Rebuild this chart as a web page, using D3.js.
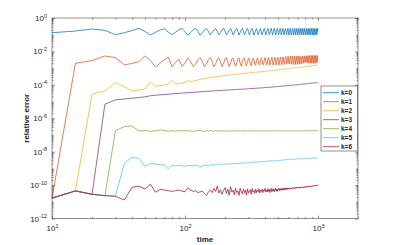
<!DOCTYPE html>
<html>
<head>
<meta charset="utf-8">
<script src="https://cdn.jsdelivr.net/npm/d3@7"></script>
<style>
  body { margin: 0; background: #fff; }
  text { font-family: "Liberation Sans", Arial, sans-serif; fill: #262626; }
</style>
</head>
<body>
<div id="chart"></div>
<script>
// sample times
const times = [
  10,15,20,25,30,35,40,45,50,55,60,65,70,75,80,85,90,95,100,105,
  110,115,120,125,130,135,140,145,150,155,160,165,170,175,180,185,190,195,200,205,
  210,215,220,225,230,235,240,245,250,255,260,265,270,275,280,285,290,295,300,305,
  310,315,320,325,330,335,340,345,350,355,360,365,370,375,380,385,390,395,400,405,
  410,415,420,425,430,435,440,445,450,455,460,465,470,475,480,485,490,495,500,505,
  510,515,520,525,530,535,540,545,550,555,560,565,570,575,580,585,590,595,600,605,
  610,615,620,625,630,635,640,645,650,655,660,665,670,675,680,685,690,695,700,705,
  710,715,720,725,730,735,740,745,750,755,760,765,770,775,780,785,790,795,800,805,
  810,815,820,825,830,835,840,845,850,855,860,865,870,875,880,885,890,895,900,905,
  910,915,920,925,930,935,940,945,950,955,960,965,970,975,980,985,990,995,1000
];

// log10 of the relative error for each k
const errK0 = [
  -0.88,-0.78,-0.66,-0.74,-1.00,-0.88,-0.75,-0.62,-0.80,-1.02,
  -0.86,-0.72,-0.64,-0.85,-1.00,-0.85,-0.70,-0.62,-0.82,-1.02,
  -0.88,-0.72,-0.62,-0.80,-1.02,-0.90,-0.72,-0.63,-0.80,-1.00,
  -0.86,-0.71,-0.63,-0.81,-1.01,-0.87,-0.72,-0.62,-0.79,-1.00,
  -0.88,-0.73,-0.63,-0.80,-1.01,-0.86,-0.71,-0.62,-0.81,-1.02,
  -0.87,-0.72,-0.62,-0.79,-1.00,-0.88,-0.73,-0.63,-0.80,-1.01,
  -0.86,-0.71,-0.62,-0.81,-1.02,-0.87,-0.72,-0.63,-0.79,-1.00,
  -0.88,-0.72,-0.62,-0.80,-1.01,-0.86,-0.71,-0.62,-0.80,-1.02,
  -0.87,-0.73,-0.63,-0.79,-1.00,-0.88,-0.72,-0.62,-0.81,-1.01,
  -0.86,-0.71,-0.62,-0.80,-1.02,-0.87,-0.72,-0.63,-0.79,-1.00,
  -0.88,-0.72,-0.62,-0.81,-1.01,-0.86,-0.73,-0.62,-0.80,-1.02,
  -0.87,-0.71,-0.63,-0.79,-1.00,-0.88,-0.72,-0.62,-0.81,-1.01,
  -0.86,-0.72,-0.62,-0.80,-1.02,-0.87,-0.71,-0.63,-0.79,-1.00,
  -0.88,-0.73,-0.62,-0.81,-1.01,-0.86,-0.72,-0.62,-0.80,-1.02,
  -0.87,-0.71,-0.63,-0.79,-1.00,-0.88,-0.72,-0.62,-0.81,-1.01,
  -0.86,-0.72,-0.62,-0.80,-1.02,-0.87,-0.73,-0.63,-0.79,-1.00,
  -0.88,-0.71,-0.62,-0.81,-1.01,-0.86,-0.72,-0.62,-0.80,-1.02,
  -0.87,-0.72,-0.63,-0.79,-1.00,-0.88,-0.71,-0.62,-0.81,-1.01,
  -0.86,-0.73,-0.62,-0.80,-1.02,-0.87,-0.72,-0.63,-0.79,-1.00,
  -0.88,-0.72,-0.62,-0.81,-1.01,-0.86,-0.71,-0.62,-0.80
];
const errK1 = [
  -10.78,-2.71,-2.55,-2.27,-2.37,-2.81,-2.72,-2.61,-2.27,-2.55,
  -2.93,-2.70,-2.50,-2.35,-2.92,-2.65,-2.48,-2.90,-2.70,-2.40,
  -2.58,-2.90,-2.78,-2.50,-2.36,-2.60,-2.92,-2.76,-2.48,-2.36,
  -2.62,-2.92,-2.74,-2.46,-2.37,-2.64,-2.91,-2.72,-2.45,-2.38,
  -2.66,-2.90,-2.70,-2.44,-2.39,-2.68,-2.89,-2.68,-2.43,-2.40,
  -2.70,-2.88,-2.66,-2.42,-2.41,-2.72,-2.87,-2.63,-2.41,-2.43,
  -2.74,-2.85,-2.60,-2.40,-2.45,-2.76,-2.83,-2.57,-2.39,-2.47,
  -2.78,-2.80,-2.54,-2.38,-2.50,-2.80,-2.77,-2.51,-2.37,-2.53,
  -2.81,-2.74,-2.48,-2.36,-2.56,-2.82,-2.71,-2.45,-2.35,-2.59,
  -2.82,-2.68,-2.42,-2.35,-2.62,-2.82,-2.64,-2.39,-2.35,-2.65,
  -2.81,-2.60,-2.36,-2.36,-2.68,-2.80,-2.56,-2.33,-2.37,-2.71,
  -2.78,-2.52,-2.31,-2.39,-2.73,-2.76,-2.48,-2.29,-2.41,-2.75,
  -2.73,-2.44,-2.28,-2.44,-2.77,-2.70,-2.41,-2.27,-2.47,-2.78,
  -2.66,-2.38,-2.27,-2.50,-2.78,-2.62,-2.35,-2.27,-2.53,-2.78,
  -2.58,-2.32,-2.28,-2.56,-2.76,-2.54,-2.30,-2.29,-2.59,-2.74,
  -2.50,-2.28,-2.31,-2.62,-2.71,-2.46,-2.27,-2.33,-2.65,-2.68,
  -2.43,-2.26,-2.36,-2.67,-2.64,-2.39,-2.25,-2.39,-2.69,-2.60,
  -2.36,-2.24,-2.42,-2.70,-2.56,-2.32,-2.24,-2.45,-2.71,-2.52,
  -2.30,-2.24,-2.48,-2.71,-2.48,-2.27,-2.25,-2.52,-2.70,-2.44,
  -2.25,-2.26,-2.55,-2.68,-2.40,-2.23,-2.28,-2.58,-2.64
];
const errK2 = [
  -10.78,-10.35,-4.55,-4.37,-3.87,-4.10,-4.37,-4.30,-4.25,-3.83,
  -4.09,-4.05,-4.00,-3.95,-3.75,-3.95,-3.92,-3.90,-3.86,-3.75,
  -3.82,-3.78,-3.74,-3.71,-3.68,-3.65,-3.63,-3.61,-3.59,-3.57,
  -3.55,-3.54,-3.52,-3.51,-3.49,-3.48,-3.47,-3.46,-3.45,-3.44,
  -3.43,-3.42,-3.41,-3.40,-3.39,-3.38,-3.37,-3.37,-3.36,-3.35,
  -3.34,-3.34,-3.33,-3.32,-3.32,-3.31,-3.30,-3.30,-3.29,-3.29,
  -3.28,-3.27,-3.27,-3.26,-3.26,-3.25,-3.25,-3.24,-3.24,-3.23,
  -3.23,-3.22,-3.22,-3.21,-3.21,-3.20,-3.20,-3.19,-3.19,-3.18,
  -3.18,-3.17,-3.17,-3.16,-3.16,-3.16,-3.15,-3.15,-3.14,-3.14,
  -3.13,-3.13,-3.13,-3.12,-3.12,-3.11,-3.11,-3.11,-3.10,-3.10,
  -3.09,-3.09,-3.09,-3.08,-3.08,-3.07,-3.07,-3.07,-3.06,-3.06,
  -3.06,-3.05,-3.05,-3.05,-3.04,-3.04,-3.04,-3.03,-3.03,-3.03,
  -3.02,-3.02,-3.02,-3.01,-3.01,-3.01,-3.00,-3.00,-3.00,-2.99,
  -2.99,-2.99,-2.98,-2.98,-2.98,-2.97,-2.97,-2.97,-2.97,-2.96,
  -2.96,-2.96,-2.95,-2.95,-2.95,-2.94,-2.94,-2.94,-2.94,-2.93,
  -2.93,-2.93,-2.92,-2.92,-2.92,-2.92,-2.91,-2.91,-2.91,-2.90,
  -2.90,-2.90,-2.90,-2.89,-2.89,-2.89,-2.89,-2.88,-2.88,-2.88,
  -2.88,-2.87,-2.87,-2.87,-2.87,-2.86,-2.86,-2.86,-2.86,-2.85,
  -2.85,-2.85,-2.85,-2.85,-2.84,-2.84,-2.84,-2.84,-2.83,-2.83,
  -2.83,-2.83,-2.83,-2.82,-2.82,-2.82,-2.82,-2.82,-2.81
];
const errK3 = [
  -10.78,-10.35,-10.55,-5.16,-4.90,-4.85,-4.80,-4.76,-4.72,-4.65,
  -4.62,-4.60,-4.58,-4.56,-4.54,-4.52,-4.51,-4.49,-4.48,-4.47,
  -4.46,-4.45,-4.44,-4.43,-4.42,-4.41,-4.40,-4.39,-4.38,-4.38,
  -4.37,-4.36,-4.36,-4.35,-4.34,-4.34,-4.33,-4.33,-4.32,-4.32,
  -4.31,-4.31,-4.30,-4.30,-4.29,-4.29,-4.28,-4.28,-4.27,-4.27,
  -4.27,-4.26,-4.26,-4.25,-4.25,-4.25,-4.24,-4.24,-4.23,-4.23,
  -4.23,-4.22,-4.22,-4.22,-4.21,-4.21,-4.21,-4.20,-4.20,-4.20,
  -4.19,-4.19,-4.19,-4.18,-4.18,-4.18,-4.17,-4.17,-4.17,-4.16,
  -4.16,-4.16,-4.15,-4.15,-4.15,-4.14,-4.14,-4.14,-4.13,-4.13,
  -4.13,-4.12,-4.12,-4.12,-4.11,-4.11,-4.11,-4.10,-4.10,-4.10,
  -4.09,-4.09,-4.08,-4.08,-4.08,-4.08,-4.07,-4.07,-4.07,-4.07,
  -4.06,-4.06,-4.06,-4.06,-4.05,-4.05,-4.05,-4.05,-4.04,-4.04,
  -4.04,-4.04,-4.03,-4.03,-4.03,-4.03,-4.02,-4.02,-4.02,-4.02,
  -4.01,-4.01,-4.01,-4.01,-4.00,-4.00,-4.00,-4.00,-3.99,-3.99,
  -3.99,-3.99,-3.98,-3.98,-3.98,-3.98,-3.97,-3.97,-3.97,-3.97,
  -3.96,-3.96,-3.96,-3.96,-3.95,-3.95,-3.95,-3.95,-3.94,-3.94,
  -3.94,-3.94,-3.93,-3.93,-3.93,-3.93,-3.92,-3.92,-3.92,-3.92,
  -3.92,-3.91,-3.91,-3.91,-3.91,-3.91,-3.90,-3.90,-3.90,-3.90,
  -3.90,-3.90,-3.89,-3.89,-3.89,-3.89,-3.89,-3.89,-3.88,-3.88,
  -3.88,-3.88,-3.88,-3.88,-3.87,-3.87,-3.87,-3.87,-3.87
];
const errK4 = [
  -10.78,-10.35,-10.55,-10.63,-6.74,-6.50,-6.46,-6.76,-6.74,-6.78,
  -6.76,-6.70,-6.74,-6.77,-6.75,-6.78,-6.74,-6.76,-6.73,-6.77,
  -6.75,-6.79,-6.74,-6.76,-6.72,-6.77,-6.80,-6.75,-6.77,-6.73,
  -6.76,-6.78,-6.74,-6.77,-6.75,-6.79,-6.74,-6.76,-6.78,-6.75,
  -6.77,-6.74,-6.78,-6.75,-6.77,-6.74,-6.78,-6.75,-6.76,-6.74,
  -6.78,-6.75,-6.77,-6.74,-6.78,-6.75,-6.76,-6.74,-6.77,-6.75,
  -6.77,-6.74,-6.78,-6.75,-6.76,-6.74,-6.77,-6.75,-6.78,-6.75,
  -6.76,-6.74,-6.77,-6.75,-6.78,-6.75,-6.76,-6.74,-6.77,-6.75,
  -6.77,-6.75,-6.76,-6.74,-6.77,-6.75,-6.78,-6.75,-6.76,-6.74,
  -6.77,-6.75,-6.76,-6.75,-6.77,-6.74,-6.76,-6.75,-6.77,-6.75,
  -6.76,-6.74,-6.77,-6.75,-6.76,-6.75,-6.77,-6.74,-6.76,-6.75,
  -6.77,-6.75,-6.76,-6.74,-6.77,-6.75,-6.76,-6.75,-6.77,-6.74,
  -6.76,-6.75,-6.77,-6.75,-6.76,-6.74,-6.77,-6.75,-6.76,-6.75,
  -6.77,-6.74,-6.76,-6.75,-6.77,-6.75,-6.76,-6.74,-6.77,-6.75,
  -6.76,-6.75,-6.77,-6.74,-6.76,-6.75,-6.77,-6.75,-6.76,-6.74,
  -6.77,-6.75,-6.76,-6.75,-6.77,-6.74,-6.76,-6.75,-6.77,-6.75,
  -6.76,-6.74,-6.77,-6.75,-6.76,-6.75,-6.77,-6.74,-6.76,-6.75,
  -6.77,-6.75,-6.76,-6.74,-6.77,-6.75,-6.76,-6.75,-6.77,-6.74,
  -6.76,-6.75,-6.77,-6.75,-6.76,-6.74,-6.77,-6.75,-6.76,-6.75,
  -6.77,-6.74,-6.76,-6.75,-6.77,-6.75,-6.76,-6.75,-6.76
];
const errK5 = [
  -10.78,-10.35,-10.55,-10.63,-10.67,-8.69,-8.35,-8.40,-8.89,-8.69,
  -8.75,-8.78,-8.80,-9.03,-8.80,-8.86,-8.82,-8.85,-8.88,-8.84,
  -8.82,-8.86,-8.80,-8.84,-8.92,-8.85,-8.80,-8.83,-8.86,-8.80,
  -8.78,-8.82,-8.75,-8.80,-8.74,-8.78,-8.72,-8.76,-8.73,-8.78,
  -8.72,-8.75,-8.70,-8.74,-8.69,-8.73,-8.70,-8.72,-8.68,-8.71,
  -8.67,-8.70,-8.66,-8.69,-8.65,-8.68,-8.64,-8.67,-8.65,-8.66,
  -8.63,-8.66,-8.62,-8.65,-8.61,-8.64,-8.61,-8.63,-8.60,-8.62,
  -8.60,-8.62,-8.59,-8.61,-8.58,-8.60,-8.58,-8.60,-8.57,-8.59,
  -8.57,-8.59,-8.56,-8.58,-8.55,-8.57,-8.55,-8.57,-8.54,-8.56,
  -8.54,-8.56,-8.53,-8.55,-8.53,-8.54,-8.52,-8.54,-8.52,-8.53,
  -8.52,-8.53,-8.51,-8.52,-8.50,-8.52,-8.50,-8.51,-8.49,-8.51,
  -8.49,-8.50,-8.48,-8.50,-8.48,-8.49,-8.47,-8.49,-8.47,-8.48,
  -8.47,-8.48,-8.46,-8.47,-8.45,-8.47,-8.45,-8.46,-8.44,-8.46,
  -8.45,-8.46,-8.44,-8.45,-8.43,-8.45,-8.43,-8.44,-8.43,-8.44,
  -8.43,-8.44,-8.42,-8.44,-8.42,-8.43,-8.41,-8.43,-8.41,-8.42,
  -8.42,-8.43,-8.41,-8.42,-8.40,-8.42,-8.40,-8.41,-8.40,-8.41,
  -8.41,-8.42,-8.40,-8.41,-8.40,-8.41,-8.39,-8.41,-8.39,-8.40,
  -8.40,-8.41,-8.39,-8.40,-8.39,-8.40,-8.38,-8.40,-8.38,-8.39,
  -8.39,-8.40,-8.38,-8.39,-8.38,-8.39,-8.37,-8.39,-8.38,-8.39,
  -8.38,-8.39,-8.37,-8.38,-8.37,-8.38,-8.37,-8.38,-8.37
];
const errK6 = [
  -10.78,-10.35,-10.55,-10.63,-10.67,-10.89,-10.13,-10.07,-10.23,-9.95,
  -10.43,-10.25,-10.30,-10.34,-10.38,-10.33,-10.30,-10.36,-10.40,-10.15,
  -10.30,-10.38,-10.33,-10.45,-10.40,-10.36,-10.50,-10.62,-10.42,-10.30,
  -10.45,-10.20,-10.38,-10.05,-10.48,-10.28,-10.55,-10.32,-10.15,-10.50,
  -10.25,-10.60,-10.10,-10.42,-10.30,-10.58,-10.20,-10.45,-10.35,-10.62,
  -10.18,-10.40,-10.52,-10.25,-10.45,-10.30,-10.60,-10.22,-10.48,-10.35,
  -10.28,-10.55,-10.20,-10.42,-10.33,-10.50,-10.25,-10.45,-10.30,-10.40,
  -10.22,-10.48,-10.30,-10.38,-10.25,-10.45,-10.28,-10.35,-10.20,-10.40,
  -10.30,-10.42,-10.22,-10.38,-10.25,-10.45,-10.28,-10.20,-10.40,-10.26,
  -10.35,-10.22,-10.40,-10.28,-10.18,-10.36,-10.25,-10.38,-10.22,-10.30,
  -10.20,-10.34,-10.24,-10.30,-10.18,-10.32,-10.22,-10.28,-10.17,-10.30,
  -10.20,-10.27,-10.18,-10.28,-10.19,-10.25,-10.16,-10.26,-10.18,-10.23,
  -10.20,-10.16,-10.24,-10.19,-10.22,-10.17,-10.21,-10.15,-10.20,-10.18,
  -10.14,-10.20,-10.17,-10.21,-10.15,-10.18,-10.13,-10.19,-10.16,-10.14,
  -10.18,-10.12,-10.16,-10.14,-10.19,-10.13,-10.15,-10.11,-10.17,-10.13,
  -10.15,-10.10,-10.14,-10.12,-10.16,-10.11,-10.13,-10.09,-10.14,-10.11,
  -10.12,-10.08,-10.13,-10.10,-10.11,-10.07,-10.12,-10.09,-10.10,-10.06,
  -10.10,-10.07,-10.09,-10.05,-10.10,-10.07,-10.08,-10.04,-10.08,-10.06,
  -10.07,-10.04,-10.06,-10.03,-10.07,-10.04,-10.05,-10.02,-10.05,-10.03,
  -10.04,-10.02,-10.04,-10.01,-10.03,-10.00,-10.02,-9.99,-9.99
];

const seriesNames = ["k=0", "k=1", "k=2", "k=3", "k=4", "k=5", "k=6"];
const seriesErr = [errK0, errK1, errK2, errK3, errK4, errK5, errK6];
const colors = ["#0072BD", "#D95319", "#EDB120", "#7E2F8E", "#77AC30", "#4DBEEE", "#A2142F"];

const xMajor = [10, 100, 1000];
const yMajor = [1e-12, 1e-10, 1e-8, 1e-6, 1e-4, 1e-2, 1];

// layout
const W = 397, H = 245;
const margin = { top: 18, right: 39, bottom: 26.5, left: 52 };
const width = W - margin.left - margin.right;
const height = H - margin.top - margin.bottom;
const axisColor = "#262626";

const svg = d3.select("#chart").append("svg")
  .attr("width", W)
  .attr("height", H);

const g = svg.append("g")
  .attr("transform", `translate(${margin.left}, ${margin.top})`);

const x = d3.scaleLog().domain([10, 2000]).range([0, width]);
const y = d3.scaleLog().domain([1e-12, 1]).range([height, 0]);

// minor tick positions 2..9 in each decade
const xMinor = [];
[10, 100, 1000].forEach(d => {
  for (let m = 2; m <= 9; m++) if (m * d <= 2000) xMinor.push(m * d);
});
const yMinor = [];
for (let e = -12; e < 0; e++) {
  for (let m = 1; m <= 9; m++) {
    const v = m * Math.pow(10, e);
    if (!yMajor.some(t => Math.abs(t - v) / v < 1e-6)) yMinor.push(v);
  }
}

// superscript labels like 10^-4
const expLabel = sel => {
  sel.each(function(d) {
    const t = d3.select(this);
    const e = Math.round(Math.log10(d));
    t.text(null);
    t.append("tspan").text("10");
    t.append("tspan").attr("dy", -3.5).attr("font-size", 5.5).text(e);
  });
};

const styleAxis = a => {
  a.select(".domain").remove();
  a.selectAll(".tick line").attr("stroke", axisColor).attr("stroke-width", 0.5);
  a.selectAll(".tick text").attr("fill", axisColor);
};

// plot lines (k=0 first, k=6 on top)
const line = d3.line()
  .x((d, i) => x(times[i]))
  .y(d => y(Math.pow(10, d)));

seriesErr.forEach((s, k) => {
  g.append("path")
    .datum(s)
    .attr("fill", "none")
    .attr("stroke", colors[k])
    .attr("stroke-width", 0.75)
    .attr("d", line);
});

// bottom axis
g.append("g")
  .attr("transform", `translate(0, ${height})`)
  .call(d3.axisBottom(x).tickValues(xMajor).tickSizeInner(-3).tickSizeOuter(0).tickPadding(7))
  .attr("font-size", 8)
  .attr("font-family", "Liberation Sans, Arial, sans-serif")
  .call(styleAxis)
  .call(a => a.selectAll(".tick text").call(expLabel));
g.append("g")
  .attr("transform", `translate(0, ${height})`)
  .call(d3.axisBottom(x).tickValues(xMinor).tickSizeInner(-1.6).tickSizeOuter(0).tickFormat(""))
  .call(styleAxis);

// top axis
g.append("g")
  .call(d3.axisTop(x).tickValues(xMajor).tickSizeInner(-3).tickSizeOuter(0).tickFormat(""))
  .call(styleAxis);
g.append("g")
  .call(d3.axisTop(x).tickValues(xMinor).tickSizeInner(-1.6).tickSizeOuter(0).tickFormat(""))
  .call(styleAxis);

// left axis
g.append("g")
  .call(d3.axisLeft(y).tickValues(yMajor).tickSizeInner(-3).tickSizeOuter(0).tickPadding(5))
  .attr("font-size", 8)
  .attr("font-family", "Liberation Sans, Arial, sans-serif")
  .call(styleAxis)
  .call(a => a.selectAll(".tick text").call(expLabel));
g.append("g")
  .call(d3.axisLeft(y).tickValues(yMinor).tickSizeInner(-1.6).tickSizeOuter(0).tickFormat(""))
  .call(styleAxis);

// right axis
g.append("g")
  .attr("transform", `translate(${width}, 0)`)
  .call(d3.axisRight(y).tickValues(yMajor).tickSizeInner(-3).tickSizeOuter(0).tickFormat(""))
  .call(styleAxis);
g.append("g")
  .attr("transform", `translate(${width}, 0)`)
  .call(d3.axisRight(y).tickValues(yMinor).tickSizeInner(-1.6).tickSizeOuter(0).tickFormat(""))
  .call(styleAxis);

// box
g.append("rect")
  .attr("width", width)
  .attr("height", height)
  .attr("fill", "none")
  .attr("stroke", axisColor)
  .attr("stroke-width", 0.5);

// axis titles
g.append("text")
  .attr("x", width / 2)
  .attr("y", height + 23)
  .attr("text-anchor", "middle")
  .attr("font-size", 8)
  .attr("font-weight", "bold")
  .text("time");

g.append("text")
  .attr("transform", `translate(-23, ${height / 2}) rotate(-90)`)
  .attr("text-anchor", "middle")
  .attr("font-size", 8)
  .attr("font-weight", "bold")
  .text("relative error");

// legend
const legend = svg.append("g").attr("transform", "translate(321, 86)");
legend.append("rect")
  .attr("width", 36.5)
  .attr("height", 65)
  .attr("fill", "#fff")
  .attr("stroke", axisColor)
  .attr("stroke-width", 0.5);

const item = legend.selectAll(".item")
  .data(seriesNames)
  .enter()
  .append("g")
  .attr("class", "item")
  .attr("transform", (d, i) => `translate(0, ${6.7 + i * 9})`);

item.append("line")
  .attr("x1", 2)
  .attr("x2", 18)
  .attr("stroke", (d, i) => colors[i])
  .attr("stroke-width", 0.75);

item.append("text")
  .attr("x", 20)
  .attr("dy", "0.35em")
  .attr("font-size", 6.5)
  .attr("font-weight", "bold")
  .text(d => d);
</script>
</body>
</html>
